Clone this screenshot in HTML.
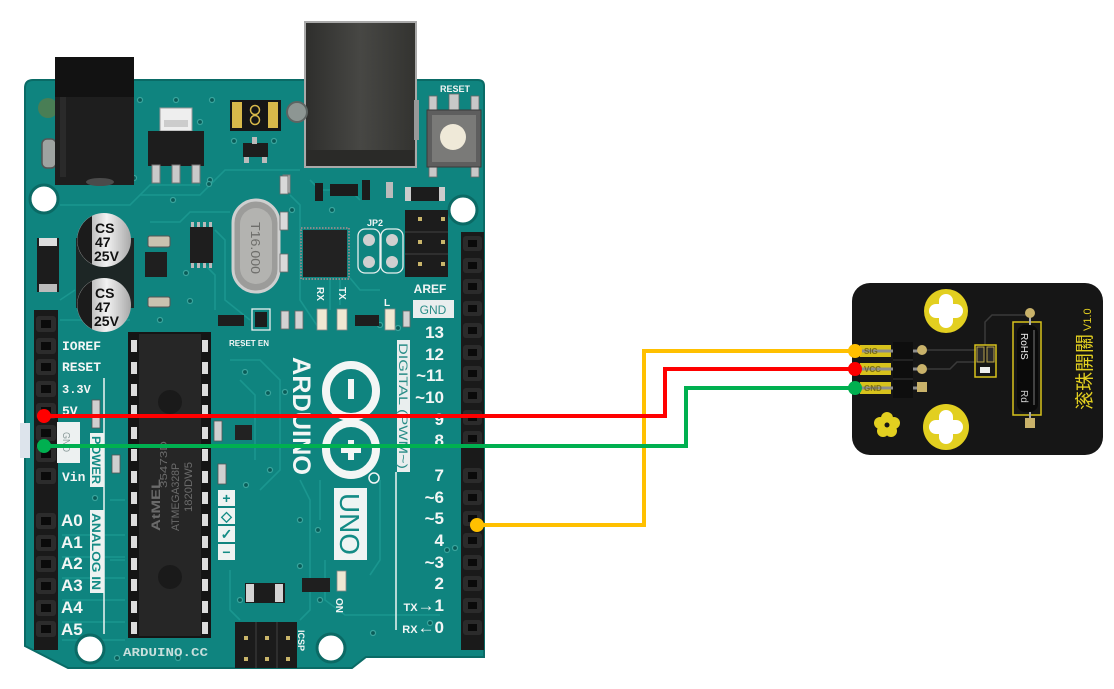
<!DOCTYPE html>
<html><head><meta charset="utf-8">
<style>
html,body{margin:0;padding:0;background:#fff;width:1114px;height:689px;overflow:hidden}
svg{display:block}
.w{fill:#f3f6f5;font-family:"Liberation Sans",sans-serif;font-weight:bold}
.m{font-family:"Liberation Mono",monospace;font-weight:bold;fill:#f3f6f5}
</style></head>
<body>
<svg width="1114" height="689" viewBox="0 0 1114 689" xmlns="http://www.w3.org/2000/svg" font-family="Liberation Sans, sans-serif">
<defs>
<linearGradient id="cap" x1="0" x2="1"><stop offset="0" stop-color="#8e8e8e"/><stop offset=".55" stop-color="#f2f2f2"/><stop offset="1" stop-color="#a9a9a9"/></linearGradient>
<linearGradient id="usb" x1="0" x2="1"><stop offset="0" stop-color="#2e2e2c"/><stop offset=".5" stop-color="#474744"/><stop offset="1" stop-color="#333330"/></linearGradient>
</defs>

<!-- ===== ARDUINO BOARD ===== -->
<path d="M25 88 Q25 80 33 80 L478 80 Q484 80 484 86 L484 657 L366 657 L352 668 L68 668 L25 646 Z" fill="#0f847f" stroke="#0a6b66" stroke-width="2"/>

<!-- traces -->
<g fill="none" stroke="#1d9b93" stroke-width="1.6" opacity=".8">
<path d="M140 195 L200 195 L225 170 L300 170"/>
<path d="M60 205 L130 205 L150 185 L200 185"/>
<path d="M150 222 L180 222 L190 212 L230 212"/>
<path d="M215 230 L225 240 L225 300 L250 320"/>
<path d="M205 265 L215 275 L215 310"/>
<path d="M290 195 L300 205 L300 300 L320 330"/>
<path d="M310 180 L320 190 L350 190 L360 200"/>
<path d="M330 280 L330 310 M340 280 L340 305 M350 278 L360 290 L380 290"/>
<path d="M60 300 L75 290 M60 320 L130 320"/>
<path d="M230 360 L260 360 L280 380 L280 470 L260 490"/>
<path d="M240 380 L255 395 L255 460"/>
<path d="M300 480 L310 500 L310 610 L300 620"/>
<path d="M320 480 L320 520 M325 560 L325 600 L345 615 L440 615"/>
<path d="M380 480 L380 560 L370 575"/>
<path d="M230 570 L230 610 L240 620"/>
<path d="M110 500 L125 500 M110 560 L125 560"/>
<path d="M62 535 L125 535 M62 557 L125 557 M62 578 L125 578 M62 600 L125 600 M62 622 L125 622 M62 640 L125 640"/>
</g>

<!-- vias -->
<g fill="#0a5c58" stroke="#3aa59d" stroke-width="1.2">
<circle cx="140" cy="100" r="2.5"/><circle cx="176" cy="100" r="2.5"/><circle cx="212" cy="100" r="2.5"/>
<circle cx="200" cy="122" r="2.5"/><circle cx="234" cy="141" r="2.5"/><circle cx="274" cy="141" r="2.5"/>
<circle cx="134" cy="178" r="2.5"/><circle cx="210" cy="180" r="2.5"/><circle cx="209" cy="184" r="2.5"/>
<circle cx="292" cy="210" r="2.5"/><circle cx="173" cy="200" r="2.5"/><circle cx="186" cy="273" r="2.5"/>
<circle cx="190" cy="301" r="2.5"/><circle cx="160" cy="320" r="2.5"/><circle cx="240" cy="345" r="2.5"/>
<circle cx="245" cy="372" r="2.5"/><circle cx="268" cy="393" r="2.5"/><circle cx="285" cy="392" r="2.5"/>
<circle cx="270" cy="470" r="2.5"/><circle cx="246" cy="485" r="2.5"/><circle cx="300" cy="520" r="2.5"/>
<circle cx="320" cy="600" r="2.5"/><circle cx="300" cy="566" r="2.5"/><circle cx="318" cy="530" r="2.5"/>
<circle cx="373" cy="633" r="2.5"/><circle cx="430" cy="623" r="2.5"/><circle cx="117" cy="658" r="2.5"/>
<circle cx="178" cy="658" r="2.5"/><circle cx="240" cy="600" r="2.5"/><circle cx="95" cy="498" r="2.5"/>
<circle cx="332" cy="210" r="2.5"/><circle cx="338" cy="138" r="2.5"/><circle cx="380" cy="325" r="2.5"/>
<circle cx="398" cy="328" r="2.5"/><circle cx="455" cy="548" r="2.5"/><circle cx="447" cy="550" r="2.5"/>
</g>

<!-- mounting holes -->
<g fill="#fff" stroke="#0b6a65" stroke-width="3">
<circle cx="44" cy="199" r="14"/><circle cx="463" cy="210" r="14"/>
<circle cx="90" cy="649" r="14"/><circle cx="331" cy="648" r="14"/>
</g>

<!-- left edge small metal parts -->
<circle cx="48" cy="108" r="10" fill="#6f7a38" opacity=".6"/>
<rect x="42" y="139" width="14" height="29" rx="5" fill="#9ea3a1" stroke="#555" stroke-width="1.5"/>
<rect x="20" y="423" width="10" height="35" fill="#dde4ec"/>

<!-- power jack -->
<rect x="55" y="57" width="79" height="128" fill="#1e1e1e"/>
<rect x="55" y="57" width="79" height="40" fill="#121212"/>
<rect x="60" y="97" width="6" height="80" fill="#2a2a2a"/>
<ellipse cx="100" cy="182" rx="14" ry="4" fill="#4b4b4b"/>

<!-- regulator -->
<rect x="160" y="108" width="32" height="23" fill="#eeeeee" stroke="#999"/>
<rect x="164" y="120" width="24" height="7" fill="#ccc"/>
<rect x="148" y="131" width="56" height="35" fill="#1d1d1d"/>
<g fill="#c9c9c9" stroke="#777"><rect x="152" y="165" width="8" height="18"/><rect x="172" y="165" width="8" height="18"/><rect x="192" y="165" width="8" height="18"/></g>

<!-- polyfuse -->
<rect x="230" y="100" width="51" height="31" fill="#161616"/>
<rect x="232" y="102" width="10" height="26" fill="#d8b94a"/>
<rect x="268" y="102" width="10" height="26" fill="#d8b94a"/>
<circle cx="255" cy="110" r="4.5" fill="none" stroke="#d8b94a" stroke-width="1.5"/>
<circle cx="255" cy="120" r="4.5" fill="none" stroke="#d8b94a" stroke-width="1.5"/>
<rect x="243" y="143" width="25" height="14" fill="#1d1d1d"/>
<rect x="252" y="137" width="5" height="7" fill="#bbb"/>
<rect x="244" y="157" width="5" height="6" fill="#bbb"/><rect x="262" y="157" width="5" height="6" fill="#bbb"/>

<!-- USB -->
<rect x="305" y="22" width="111" height="145" fill="url(#usb)" stroke="#a9a9a9" stroke-width="2"/>
<rect x="307" y="150" width="107" height="16" fill="#2a2a28"/>
<circle cx="297" cy="112" r="10" fill="#8d9693" stroke="#5d6462" stroke-width="2"/>
<rect x="414" y="100" width="5" height="40" fill="#999"/>

<!-- parts under USB -->
<g fill="#1c1c1c">
<rect x="315" y="183" width="8" height="18"/><rect x="330" y="184" width="28" height="12"/>
<rect x="362" y="180" width="8" height="20"/><rect x="386" y="182" width="7" height="16" fill="#bbb"/>
<rect x="405" y="187" width="40" height="14"/>
</g>
<rect x="405" y="187" width="6" height="14" fill="#ccc"/><rect x="439" y="187" width="6" height="14" fill="#ccc"/>
<rect x="283" y="175" width="7" height="18" fill="#c6c6c6" stroke="#777"/>

<!-- reset button -->
<g fill="#c8c8c8" stroke="#666" stroke-width=".8">
<rect x="429" y="96" width="8" height="14"/><rect x="449" y="94" width="10" height="16"/><rect x="471" y="96" width="8" height="14"/>
<rect x="429" y="166" width="8" height="11"/><rect x="471" y="166" width="8" height="11"/>
</g>
<rect x="427" y="110" width="54" height="57" fill="#5e5e5e" stroke="#3a3a3a"/>
<rect x="432" y="115" width="44" height="47" fill="#7a7a78"/>
<circle cx="453" cy="137" r="13" fill="#efe9d8"/>
<text x="455" y="92" class="w" font-size="9" text-anchor="middle">RESET</text>

<!-- left SMD diode -->
<rect x="37" y="238" width="22" height="54" fill="#1c1c1c"/>
<rect x="39" y="238" width="18" height="8" fill="#ddd"/><rect x="39" y="284" width="18" height="8" fill="#bbb"/>

<!-- capacitors -->
<rect x="76" y="238" width="58" height="70" fill="#1d2625"/>
<g>
<circle cx="104" cy="240" r="27" fill="url(#cap)"/>
<path d="M92 216 A27 27 0 0 0 92 264 Z" fill="#1b1b1b"/>
<text x="95" y="233" font-size="14" font-weight="bold" fill="#111">CS</text>
<text x="95" y="247" font-size="14" font-weight="bold" fill="#111">47</text>
<text x="94" y="261" font-size="14" font-weight="bold" fill="#111">25V</text>
</g>
<g>
<circle cx="104" cy="305" r="27" fill="url(#cap)"/>
<path d="M92 281 A27 27 0 0 0 92 329 Z" fill="#1b1b1b"/>
<text x="95" y="298" font-size="14" font-weight="bold" fill="#111">CS</text>
<text x="95" y="312" font-size="14" font-weight="bold" fill="#111">47</text>
<text x="94" y="326" font-size="14" font-weight="bold" fill="#111">25V</text>
</g>

<!-- small parts left-middle -->
<rect x="148" y="236" width="22" height="11" rx="2" fill="#c9c2b0" stroke="#555"/>
<rect x="145" y="252" width="22" height="25" fill="#1f1f1f"/>
<rect x="148" y="297" width="22" height="10" rx="2" fill="#c9c2b0" stroke="#555"/>
<rect x="190" y="227" width="23" height="36" fill="#1e1e1e"/>
<g fill="#bbb"><rect x="191" y="222" width="3" height="5"/><rect x="197" y="222" width="3" height="5"/><rect x="203" y="222" width="3" height="5"/><rect x="209" y="222" width="3" height="5"/>
<rect x="191" y="263" width="3" height="5"/><rect x="197" y="263" width="3" height="5"/><rect x="203" y="263" width="3" height="5"/><rect x="209" y="263" width="3" height="5"/></g>

<!-- crystal -->
<rect x="233" y="200" width="46" height="92" rx="23" fill="#9c9c9a" stroke="#cfcfcf" stroke-width="3"/>
<rect x="240" y="208" width="32" height="76" rx="16" fill="#b3b3b0"/>
<text transform="translate(251,222) rotate(90)" font-size="13" fill="#6e6e6b" textLength="52" lengthAdjust="spacingAndGlyphs">T16.000</text>
<g fill="#d9d9d9" stroke="#666" stroke-width=".8">
<rect x="280" y="176" width="8" height="18"/><rect x="280" y="212" width="8" height="18"/><rect x="280" y="254" width="8" height="18"/>
</g>

<!-- QFP -->
<rect x="301" y="228" width="48" height="51" fill="none" stroke="#8a8a8a" stroke-width="2" stroke-dasharray="1.5 1.5"/>
<rect x="303" y="230" width="44" height="47" fill="#222"/>

<!-- JP2 -->
<text x="367" y="226" class="w" font-size="9">JP2</text>
<rect x="358" y="229" width="22" height="44" rx="7" fill="none" stroke="#e8f0ef" stroke-width="1.3"/>
<rect x="381" y="229" width="22" height="44" rx="7" fill="none" stroke="#e8f0ef" stroke-width="1.3"/>
<g fill="#d0d0d0"><circle cx="369" cy="240" r="6"/><circle cx="392" cy="240" r="6"/><circle cx="369" cy="262" r="6"/><circle cx="392" cy="262" r="6"/></g>

<!-- ICSP top -->
<rect x="405" y="210" width="43" height="67" fill="#1c1c1c"/>
<g stroke="#2f2f2f" stroke-width="2"><line x1="405" y1="232" x2="448" y2="232"/><line x1="405" y1="254" x2="448" y2="254"/></g>
<g fill="#c9b56a"><rect x="418" y="217" width="4" height="4"/><rect x="441" y="217" width="4" height="4"/><rect x="418" y="240" width="4" height="4"/><rect x="441" y="240" width="4" height="4"/><rect x="418" y="262" width="4" height="4"/><rect x="441" y="262" width="4" height="4"/></g>

<!-- AREF / GND -->
<text x="430" y="293" class="w" font-size="12" text-anchor="middle">AREF</text>
<rect x="413" y="300" width="41" height="18" fill="#e9eeee"/>
<text x="433" y="314" font-size="12" fill="#2a8d88" text-anchor="middle">GND</text>

<!-- LEDs row -->
<text transform="translate(317,287) rotate(90)" class="w" font-size="10">RX</text>
<text transform="translate(339,287) rotate(90)" class="w" font-size="10">TX</text>
<text x="384" y="306" class="w" font-size="10">L</text>
<g fill="#efe8d2" stroke="#888" stroke-width=".8">
<rect x="317" y="309" width="10" height="21"/><rect x="337" y="309" width="10" height="21"/><rect x="385" y="309" width="10" height="21"/>
</g>
<rect x="355" y="315" width="24" height="11" fill="#1e1e1e"/>
<rect x="218" y="315" width="26" height="11" fill="#1e1e1e"/>
<rect x="252" y="309" width="18" height="21" fill="none" stroke="#e8f0ef" stroke-width="1.3"/>
<rect x="255" y="312" width="12" height="15" fill="#1c1c1c"/>
<g fill="#d2d2d2" stroke="#666" stroke-width=".8"><rect x="281" y="311" width="8" height="18"/><rect x="295" y="311" width="8" height="18"/><rect x="403" y="311" width="7" height="16"/></g>
<text x="229" y="346" class="w" font-size="8">RESET EN</text>

<!-- DIP ATmega -->
<rect x="128" y="332" width="83" height="306" fill="#151515"/>
<rect x="139" y="334" width="62" height="302" fill="#262626"/>
<g fill="#dcdcdc">
<rect x="131" y="340" width="6" height="12"/><rect x="131" y="362" width="6" height="12"/><rect x="131" y="384" width="6" height="12"/><rect x="131" y="405" width="6" height="12"/><rect x="131" y="427" width="6" height="12"/><rect x="131" y="449" width="6" height="12"/><rect x="131" y="471" width="6" height="12"/><rect x="131" y="492" width="6" height="12"/><rect x="131" y="514" width="6" height="12"/><rect x="131" y="536" width="6" height="12"/><rect x="131" y="558" width="6" height="12"/><rect x="131" y="579" width="6" height="12"/><rect x="131" y="601" width="6" height="12"/><rect x="131" y="622" width="6" height="12"/>
<rect x="202" y="340" width="6" height="12"/><rect x="202" y="362" width="6" height="12"/><rect x="202" y="384" width="6" height="12"/><rect x="202" y="405" width="6" height="12"/><rect x="202" y="427" width="6" height="12"/><rect x="202" y="449" width="6" height="12"/><rect x="202" y="471" width="6" height="12"/><rect x="202" y="492" width="6" height="12"/><rect x="202" y="514" width="6" height="12"/><rect x="202" y="536" width="6" height="12"/><rect x="202" y="558" width="6" height="12"/><rect x="202" y="579" width="6" height="12"/><rect x="202" y="601" width="6" height="12"/><rect x="202" y="622" width="6" height="12"/>
</g>
<circle cx="170" cy="402" r="12" fill="#1a1a1a"/>
<circle cx="170" cy="577" r="12" fill="#1a1a1a"/>
<text transform="translate(160,531) rotate(-90)" font-size="12" font-weight="bold" fill="#6b6b6b" textLength="52" lengthAdjust="spacingAndGlyphs">AtMEL</text>
<text transform="translate(167,488) rotate(-90)" font-size="10" fill="#6b6b6b" textLength="47" lengthAdjust="spacingAndGlyphs">35473D</text>
<text transform="translate(179,531) rotate(-90)" font-size="11" fill="#6b6b6b" textLength="68" lengthAdjust="spacingAndGlyphs">ATMEGA328P</text>
<text transform="translate(192,512) rotate(-90)" font-size="11" fill="#6b6b6b" textLength="50" lengthAdjust="spacingAndGlyphs">1820DW5</text>

<!-- left header -->
<rect x="34" y="310" width="24" height="340" fill="#1a1a1a"/>
<g fill="#2c2c2c">
<rect x="36" y="316" width="20" height="16" rx="3"/><rect x="36" y="338" width="20" height="16" rx="3"/><rect x="36" y="359" width="20" height="16" rx="3"/><rect x="36" y="381" width="20" height="16" rx="3"/><rect x="36" y="403" width="20" height="16" rx="3"/><rect x="36" y="425" width="20" height="16" rx="3"/><rect x="36" y="446" width="20" height="16" rx="3"/><rect x="36" y="468" width="20" height="16" rx="3"/>
<rect x="36" y="513" width="20" height="16" rx="3"/><rect x="36" y="535" width="20" height="16" rx="3"/><rect x="36" y="556" width="20" height="16" rx="3"/><rect x="36" y="578" width="20" height="16" rx="3"/><rect x="36" y="600" width="20" height="16" rx="3"/><rect x="36" y="621" width="20" height="16" rx="3"/>
</g>
<g fill="#0a0a0a">
<rect x="41" y="320" width="10" height="8"/><rect x="41" y="342" width="10" height="8"/><rect x="41" y="363" width="10" height="8"/><rect x="41" y="385" width="10" height="8"/><rect x="41" y="407" width="10" height="8"/><rect x="41" y="429" width="10" height="8"/><rect x="41" y="450" width="10" height="8"/><rect x="41" y="472" width="10" height="8"/>
<rect x="41" y="517" width="10" height="8"/><rect x="41" y="539" width="10" height="8"/><rect x="41" y="560" width="10" height="8"/><rect x="41" y="582" width="10" height="8"/><rect x="41" y="604" width="10" height="8"/><rect x="41" y="625" width="10" height="8"/>
</g>

<!-- right header -->
<rect x="461" y="232" width="23" height="418" fill="#1a1a1a"/>
<g fill="#2b2b2b">
<rect x="463" y="236" width="19" height="15" rx="3"/><rect x="463" y="258" width="19" height="15" rx="3"/><rect x="463" y="279" width="19" height="15" rx="3"/><rect x="463" y="301" width="19" height="15" rx="3"/><rect x="463" y="323" width="19" height="15" rx="3"/><rect x="463" y="345" width="19" height="15" rx="3"/><rect x="463" y="366" width="19" height="15" rx="3"/><rect x="463" y="388" width="19" height="15" rx="3"/><rect x="463" y="410" width="19" height="15" rx="3"/><rect x="463" y="431" width="19" height="15" rx="3"/>
<rect x="463" y="468" width="19" height="15" rx="3"/><rect x="463" y="490" width="19" height="15" rx="3"/><rect x="463" y="511" width="19" height="15" rx="3"/><rect x="463" y="533" width="19" height="15" rx="3"/><rect x="463" y="555" width="19" height="15" rx="3"/><rect x="463" y="576" width="19" height="15" rx="3"/><rect x="463" y="598" width="19" height="15" rx="3"/><rect x="463" y="620" width="19" height="15" rx="3"/>
</g>
<g fill="#0a0a0a">
<rect x="468" y="240" width="9" height="7"/><rect x="468" y="262" width="9" height="7"/><rect x="468" y="283" width="9" height="7"/><rect x="468" y="305" width="9" height="7"/><rect x="468" y="327" width="9" height="7"/><rect x="468" y="349" width="9" height="7"/><rect x="468" y="370" width="9" height="7"/><rect x="468" y="392" width="9" height="7"/><rect x="468" y="414" width="9" height="7"/><rect x="468" y="435" width="9" height="7"/>
<rect x="468" y="472" width="9" height="7"/><rect x="468" y="494" width="9" height="7"/><rect x="468" y="515" width="9" height="7"/><rect x="468" y="537" width="9" height="7"/><rect x="468" y="559" width="9" height="7"/><rect x="468" y="580" width="9" height="7"/><rect x="468" y="602" width="9" height="7"/><rect x="468" y="624" width="9" height="7"/>
</g>

<!-- left labels -->
<g class="m" font-size="13">
<text x="62" y="350" class="m">IOREF</text>
<text x="62" y="371" class="m">RESET</text>
<text x="62" y="393" class="m" font-size="12">3.3V</text>
<text x="62" y="415" class="m">5V</text>
<text x="62" y="481" class="m">Vin</text>
</g>
<rect x="57" y="422" width="23" height="41" fill="#edf1f1"/>
<text transform="translate(63,432) rotate(90)" font-size="10" fill="#8a9a99" textLength="20" lengthAdjust="spacingAndGlyphs">GND</text>
<g class="w" font-size="17">
<text x="61" y="526">A0</text><text x="61" y="548">A1</text><text x="61" y="569">A2</text>
<text x="61" y="591">A3</text><text x="61" y="613">A4</text><text x="61" y="635">A5</text>
</g>
<line x1="104" y1="378" x2="104" y2="634" stroke="#eef3f2" stroke-width="1.5"/>
<rect x="90" y="433" width="14" height="54" fill="#edf2f1"/>
<text transform="translate(92,436) rotate(90)" font-size="12" font-weight="bold" fill="#128a84" textLength="48" lengthAdjust="spacingAndGlyphs">POWER</text>
<rect x="90" y="510" width="14" height="83" fill="#edf2f1"/>
<text transform="translate(92,513) rotate(90)" font-size="12" font-weight="bold" fill="#128a84" textLength="77" lengthAdjust="spacingAndGlyphs">ANALOG IN</text>
<rect x="92" y="400" width="8" height="28" fill="#cfcfcf" stroke="#555" stroke-width=".8"/>
<rect x="112" y="455" width="8" height="18" fill="#cfcfcf" stroke="#555" stroke-width=".8"/>

<!-- right labels -->
<g class="w" font-size="17" text-anchor="end">
<text x="444" y="338">13</text><text x="444" y="360">12</text><text x="444" y="381">~11</text><text x="444" y="403">~10</text>
<text x="444" y="425">9</text><text x="444" y="446">8</text>
<text x="444" y="481">7</text><text x="444" y="503">~6</text><text x="444" y="524">~5</text><text x="444" y="546">4</text>
<text x="444" y="568">~3</text><text x="444" y="589">2</text>
<text x="444" y="611"><tspan font-size="11">TX</tspan>→1</text>
<text x="444" y="633"><tspan font-size="11">RX</tspan>←0</text>
</g>
<rect x="397" y="340" width="13" height="132" fill="#e9eeee"/>
<text transform="translate(399,343) rotate(90)" font-size="12" fill="#2a8d88" textLength="126" lengthAdjust="spacingAndGlyphs">DIGITAL (PWM~)</text>
<line x1="396" y1="472" x2="396" y2="630" stroke="#eef3f2" stroke-width="1.5"/>

<!-- ARDUINO logo -->
<text transform="translate(293,357) rotate(90)" class="w" font-size="25" textLength="118" lengthAdjust="spacingAndGlyphs">ARDUINO</text>
<ellipse cx="351" cy="391" rx="25" ry="26" fill="none" stroke="#f3f6f5" stroke-width="8"/>
<ellipse cx="351" cy="449" rx="25" ry="26" fill="none" stroke="#f3f6f5" stroke-width="8"/>
<rect x="348" y="379" width="6" height="20" fill="#f3f6f5"/>
<rect x="348" y="440" width="6" height="20" fill="#f3f6f5"/>
<rect x="341" y="447" width="20" height="6" fill="#f3f6f5"/>
<circle cx="374" cy="478" r="5" fill="none" stroke="#f3f6f5" stroke-width="1.5"/>
<rect x="334" y="488" width="33" height="72" fill="#eff4f3"/>
<text transform="translate(340,493) rotate(90)" font-size="28" fill="#138b85" textLength="62" lengthAdjust="spacingAndGlyphs">UNO</text>

<!-- +/-/~ boxes -->
<g fill="#eef3f2">
<rect x="218" y="490" width="17" height="16"/><rect x="218" y="508" width="17" height="16"/><rect x="218" y="526" width="17" height="16"/><rect x="218" y="544" width="17" height="16"/>
</g>
<g fill="#138b85" font-size="14" font-weight="bold" text-anchor="middle">
<text x="226.5" y="503">+</text><text x="226.5" y="521">◇</text><text x="226.5" y="539">✓</text><text x="226.5" y="557">−</text>
</g>
<rect x="235" y="425" width="17" height="15" fill="#222"/>
<rect x="214" y="421" width="8" height="20" fill="#d0d0d0" stroke="#555" stroke-width=".8"/>
<rect x="218" y="464" width="8" height="20" fill="#d0d0d0" stroke="#555" stroke-width=".8"/>

<!-- bottom parts -->
<rect x="245" y="583" width="40" height="20" fill="#1c1c1c"/>
<rect x="246" y="584" width="8" height="18" fill="#d4d4d4"/><rect x="275" y="584" width="8" height="18" fill="#d4d4d4"/>
<rect x="302" y="578" width="28" height="14" fill="#1f1f1f"/>
<rect x="337" y="571" width="9" height="20" fill="#efe8d2" stroke="#888" stroke-width=".8"/>
<text transform="translate(336,598) rotate(90)" class="w" font-size="10">ON</text>

<!-- ICSP bottom -->
<rect x="235" y="622" width="62" height="46" fill="#1b1b1b"/>
<g stroke="#2e2e2e" stroke-width="2"><line x1="256" y1="622" x2="256" y2="668"/><line x1="277" y1="622" x2="277" y2="668"/></g>
<g fill="#c9b56a"><rect x="244" y="636" width="4" height="4"/><rect x="265" y="636" width="4" height="4"/><rect x="286" y="636" width="4" height="4"/><rect x="244" y="657" width="4" height="4"/><rect x="265" y="657" width="4" height="4"/><rect x="286" y="657" width="4" height="4"/></g>
<text transform="translate(298,630) rotate(90)" class="w" font-size="9">ICSP</text>
<text x="123" y="656" font-family="Liberation Mono, monospace" font-weight="bold" font-size="12" fill="#c7dfdc" textLength="85" lengthAdjust="spacingAndGlyphs">ARDUINO.CC</text>

<!-- ===== SENSOR MODULE ===== -->
<rect x="852" y="283" width="251" height="172" rx="18" fill="#161616"/>
<circle cx="946" cy="311" r="22" fill="#e2cf20"/>
<g fill="#fff">
<rect x="929" y="304" width="34" height="14" rx="7"/><rect x="939" y="294" width="14" height="34" rx="7"/><circle cx="946" cy="311" r="8"/>
</g>
<circle cx="946" cy="427" r="23" fill="#e2cf20"/>
<g fill="#fff">
<rect x="929" y="420" width="34" height="14" rx="7"/><rect x="939" y="410" width="14" height="34" rx="7"/><circle cx="946" cy="427" r="8"/>
</g>
<!-- flower pad -->
<g fill="#e2cf20">
<circle cx="887" cy="418" r="6"/><circle cx="894" cy="423" r="6"/><circle cx="891" cy="431" r="6"/><circle cx="883" cy="431" r="6"/><circle cx="880" cy="423" r="6"/>
</g>
<circle cx="887" cy="425" r="2.5" fill="#161616"/>
<!-- traces -->
<g fill="none" stroke="#3a3a3a" stroke-width="1.5">
<path d="M926 350 L976 350"/><path d="M926 369 L950 369 L957 362 L976 362"/>
<path d="M985 345 L985 322 L992 315 L1028 315"/>
</g>
<!-- header pads -->
<g fill="#d7c21c">
<rect x="860" y="345" width="31" height="12"/><rect x="860" y="363" width="31" height="12"/><rect x="860" y="382" width="31" height="12"/>
</g>
<g stroke="#8d8d8d" stroke-width="3"><line x1="856" y1="351" x2="922" y2="351"/><line x1="856" y1="369" x2="922" y2="369"/><line x1="856" y1="388" x2="922" y2="388"/></g>
<g font-size="8" font-weight="bold" fill="#6a5e10" opacity=".8"><text x="864" y="354">SIG</text><text x="864" y="372">VCC</text><text x="864" y="391">GND</text></g>
<rect x="893" y="342" width="20" height="56" fill="#0e0e0e"/>
<g stroke="#2a2a2a" stroke-width="1.5"><line x1="893" y1="360" x2="913" y2="360"/><line x1="893" y1="379" x2="913" y2="379"/></g>
<circle cx="922" cy="350" r="5" fill="#c9b26a"/><circle cx="922" cy="369" r="5" fill="#c9b26a"/>
<rect x="917" y="382" width="10" height="10" fill="#c9b26a"/>
<!-- SMD block -->
<rect x="975" y="345" width="21" height="32" fill="none" stroke="#d7c21c" stroke-width="1.5"/>
<rect x="977" y="347" width="7" height="15" fill="#2a2a2a" stroke="#b9a44d"/>
<rect x="987" y="347" width="7" height="15" fill="#2a2a2a" stroke="#b9a44d"/>
<rect x="980" y="367" width="10" height="6" fill="#eee"/>
<!-- reed switch -->
<rect x="1013" y="322" width="28" height="93" fill="none" stroke="#d7c21c" stroke-width="1.5"/>
<line x1="1030" y1="313" x2="1030" y2="330" stroke="#aaa" stroke-width="2"/>
<line x1="1030" y1="405" x2="1030" y2="423" stroke="#aaa" stroke-width="2"/>
<circle cx="1030" cy="313" r="5" fill="#c9b26a"/>
<rect x="1025" y="418" width="10" height="10" fill="#c9b26a"/>
<rect x="1017" y="325" width="21" height="87" rx="8" fill="#0a0a0a"/>
<line x1="1034" y1="330" x2="1034" y2="405" stroke="#555" stroke-width="1.5"/>
<text transform="translate(1021,333) rotate(90)" font-size="10" fill="#eee">RoHS</text>
<text transform="translate(1021,390) rotate(90)" font-size="10" fill="#ccc">Rd</text>
<!-- vertical title -->
<text transform="translate(1091,410) rotate(-90)" font-family="Liberation Sans, Noto Sans CJK TC, sans-serif" font-size="19" fill="#e2cf20">滚珠開關<tspan font-size="11" dx="3">V1.0</tspan></text>

<!-- ===== WIRES ===== -->
<g fill="none" stroke-width="4" stroke-linejoin="miter">
<path d="M477 525 H644 V351 H855" stroke="#ffc000"/>
<path d="M44 416 H665 V369 H855" stroke="#ff0000"/>
<path d="M44 446 H686 V388 H855" stroke="#00b050"/>
</g>
<circle cx="477" cy="525" r="7" fill="#ffc000"/>
<circle cx="855" cy="351" r="7" fill="#ffc000"/>
<circle cx="44" cy="416" r="7" fill="#ff0000"/>
<circle cx="855" cy="369" r="7" fill="#ff0000"/>
<circle cx="44" cy="446" r="7" fill="#00b050"/>
<circle cx="855" cy="388" r="7" fill="#00b050"/>
</svg>
</body></html>
